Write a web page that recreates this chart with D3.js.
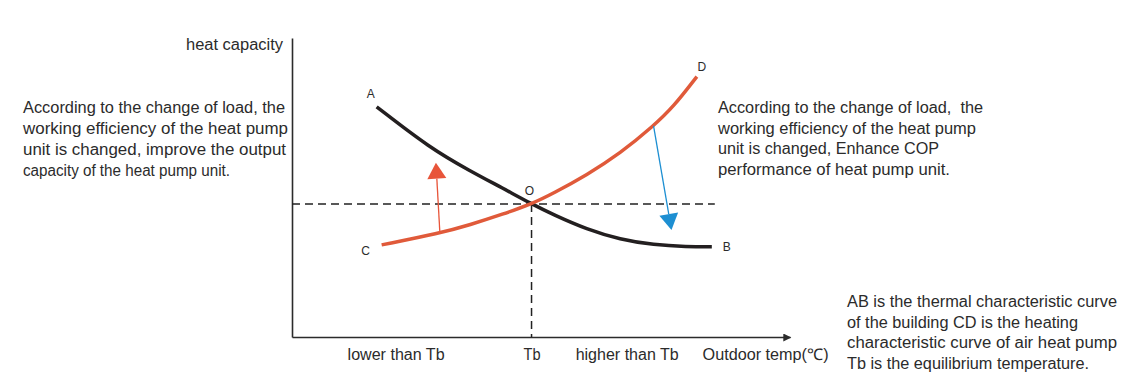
<!DOCTYPE html>
<html>
<head>
<meta charset="utf-8">
<script src="https://cdn.jsdelivr.net/npm/d3@7"></script>
<style>
  body { margin: 0; background: #fff; }
  svg text { font-family: "Liberation Sans", Arial, sans-serif; fill: #2b2b2b; }
</style>
</head>
<body>
<div id="chart"></div>
<script>
// curve points, x = outdoor temp, y = heat capacity (arbitrary 0..100 units)
var curveAB = [[17.0, 77.0], [27.7, 63.2], [35.7, 55.6], [42.4, 49.7], [48.1, 44.5], [52.5, 40.9], [59.2, 36.0],
    [65.9, 32.6], [72.6, 30.8], [79.3, 30.2], [84.3, 30.2]];
var curveCD = [[18.0, 30.8], [29.7, 34.7], [35.7, 37.5], [42.4, 41.1], [48.1, 44.5], [52.5, 48.1], [59.2, 54.2],
    [65.9, 61.4], [72.6, 70.6], [76.6, 77.0], [81.3, 87.1]];

// equilibrium point O
var balance = [48.1, 44.5];
var dashEndX = 84.9;

// arrows: [from, to]
var redArrow = [[29.7, 34.7], [28.9, 58.3]];
var blueArrow = [[72.6, 70.6], [76.2, 35.8]];

// point labels
var pointNames = ["A", "B", "C", "D", "O"];
var pointPos = [[15.8, 81.2], [87.3, 30.1], [14.8, 28.8], [82.3, 90.4], [47.7, 48.9]];

// x axis labels
var xLabels = ["lower than Tb", "Tb", "higher than Tb", "Outdoor temp(℃)"];
var xLabelPos = [20.8, 48.1, 67.2, 95.0];
var xLabelLen = [97, 17, 103, 126];

var yTitle = "heat capacity";

var leftNote = ["According to the change of load, the", "working efficiency of the heat pump", "unit is changed, improve the output", "capacity of the heat pump unit."];
var leftLen = [262, 265, 263, 207];
var rightNote = ["According to the change of load,  the", "working efficiency of the heat pump", "unit is changed, Enhance COP", "performance of heat pump unit."];
var rightLen = [265, 258, 221, 232];
var bottomNote = ["AB is the thermal characteristic curve", "of the building CD is the heating", "characteristic curve of air heat pump", "Tb is the equilibrium temperature."];
var bottomLen = [270, 231, 270, 242];

var width = 1130, height = 389;

var svg = d3.select("#chart").append("svg")
    .attr("width", width)
    .attr("height", height);

var x = d3.scaleLinear().domain([0, 100]).range([292, 790]);
var y = d3.scaleLinear().domain([0, 100]).range([337, 38]);

var defs = svg.append("defs");
defs.append("marker")
    .attr("id", "axisHead")
    .attr("viewBox", "0 0 10 10")
    .attr("refX", 9).attr("refY", 5)
    .attr("markerWidth", 10).attr("markerHeight", 8)
    .attr("markerUnits", "userSpaceOnUse")
    .attr("orient", "auto")
    .append("path").attr("d", "M0,0 L10,5 L0,10 Z").attr("fill", "#2b2b2b");

// axes
var xAxis = svg.append("g")
    .attr("transform", "translate(0," + y(0) + ")")
    .call(d3.axisBottom(x).tickValues(xLabelPos).tickFormat(function(d, i) { return xLabels[i]; })
        .tickSize(0).tickSizeOuter(0).tickPadding(12));
xAxis.select(".domain").attr("stroke", "#2b2b2b").attr("stroke-width", 1.6).attr("marker-end", "url(#axisHead)");
xAxis.selectAll("text")
    .style("font-size", "16px")
    .attr("fill", "#2b2b2b")
    .attr("textLength", function(d, i) { return xLabelLen[i]; })
    .attr("lengthAdjust", "spacingAndGlyphs");

var yAxis = svg.append("g")
    .attr("transform", "translate(" + x(0) + ",0)")
    .call(d3.axisLeft(y).tickValues([]).tickSizeOuter(0));
yAxis.select(".domain").attr("stroke", "#2b2b2b").attr("stroke-width", 1.6);

svg.append("text")
    .attr("x", 186).attr("y", 50)
    .style("font-size", "16px")
    .attr("textLength", 97).attr("lengthAdjust", "spacingAndGlyphs")
    .text(yTitle);

// dashed guide lines
svg.append("line")
    .attr("x1", x(0)).attr("x2", x(dashEndX))
    .attr("y1", y(balance[1])).attr("y2", y(balance[1]))
    .attr("stroke", "#222").attr("stroke-width", 1.5)
    .attr("stroke-dasharray", "8,5");
svg.append("line")
    .attr("x1", x(balance[0])).attr("x2", x(balance[0]))
    .attr("y1", y(balance[1])).attr("y2", y(0))
    .attr("stroke", "#222").attr("stroke-width", 1.5)
    .attr("stroke-dasharray", "8,5");

var line = d3.line()
    .x(function(d) { return x(d[0]); })
    .y(function(d) { return y(d[1]); })
    .curve(d3.curveBasis);

svg.append("path")
    .datum(curveAB)
    .attr("d", line)
    .attr("fill", "none")
    .attr("stroke", "#231f20")
    .attr("stroke-width", 3.5);

svg.append("path")
    .datum(curveCD)
    .attr("d", line)
    .attr("fill", "none")
    .attr("stroke", "#e05a3a")
    .attr("stroke-width", 3.5);

// arrows with triangle heads
function drawArrow(pts, color, w) {
    var x0 = x(pts[0][0]), y0 = y(pts[0][1]), x1 = x(pts[1][0]), y1 = y(pts[1][1]);
    var ang = Math.atan2(y1 - y0, x1 - x0);
    var headLen = 16, headW = 9.5;
    var bx = x1 - headLen * Math.cos(ang), by = y1 - headLen * Math.sin(ang);
    svg.append("line")
        .attr("x1", x0).attr("y1", y0).attr("x2", bx).attr("y2", by)
        .attr("stroke", color).attr("stroke-width", w);
    var px = -Math.sin(ang) * headW, py = Math.cos(ang) * headW;
    svg.append("path")
        .attr("d", "M" + x1 + "," + y1 + "L" + (bx + px) + "," + (by + py) + "L" + (bx - px) + "," + (by - py) + "Z")
        .attr("fill", color);
}
drawArrow(redArrow, "#e8553a", 1.3);
drawArrow(blueArrow, "#1d8fd2", 1.3);

// point labels
svg.selectAll(".pt")
    .data(pointNames)
    .enter().append("text")
    .attr("class", "pt")
    .attr("x", function(d, i) { return x(pointPos[i][0]); })
    .attr("y", function(d, i) { return y(pointPos[i][1]); })
    .attr("text-anchor", "middle")
    .attr("dy", "0.35em")
    .style("font-size", "12px")
    .text(function(d) { return d; });

// notes
function note(lines, lens, x0, y0, step) {
    svg.append("g").selectAll("text")
        .data(lines)
        .enter().append("text")
        .attr("x", x0)
        .attr("y", function(d, i) { return y0 + i * step; })
        .style("font-size", "16px")
        .attr("textLength", function(d, i) { return lens[i]; })
        .attr("lengthAdjust", "spacingAndGlyphs")
        .style("white-space", "pre")
        .text(function(d) { return d; });
}
note(leftNote, leftLen, 23, 113, 21);
note(rightNote, rightLen, 718, 113, 20.5);
note(bottomNote, bottomLen, 847, 307, 20.5);
</script>
</body>
</html>
